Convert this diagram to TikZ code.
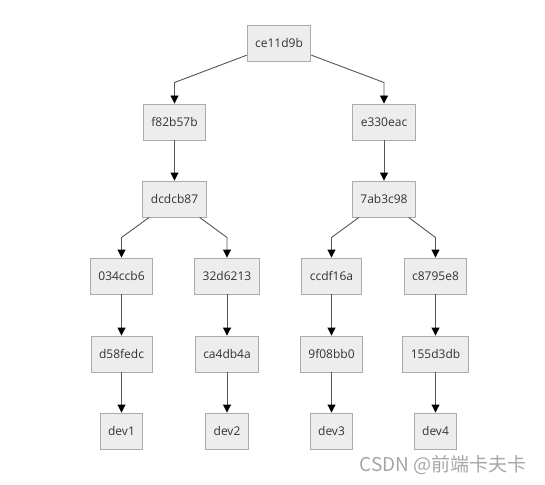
\documentclass[tikz,border=0pt]{standalone}
\usepackage{fontspec}
\setmainfont{Open Sans}
\newfontfamily\cjk{Noto Sans CJK SC}
\usetikzlibrary{arrows.meta}
\usetikzlibrary{calc}

\definecolor{boxfill}{HTML}{EDEDED}
\definecolor{boxline}{HTML}{ABABAB}
\definecolor{edgeline}{HTML}{555555}
\definecolor{marktext}{HTML}{A6A6A6}

\tikzset{
    commit/.style = {draw=boxline, fill=boxfill, text=black!80, line width=0.9pt,
        font=\fontsize{12}{14}\selectfont, inner xsep=8pt, minimum height=36pt},
    link/.style = {draw=edgeline, line width=0.9pt,
        -{Triangle[length=8pt,width=8pt,fill=black,color=black]}},
}

\begin{document}
\begin{tikzpicture}[x=1pt, y=-1pt]
            \useasboundingbox (0,0) rectangle (545,484);
            \node[commit] (ce) at (279,43) {ce11d9b};
            \node[commit] (f8) at (174.5,122) {f82b57b};
            \node[commit] (e3) at (384,122) {e330eac};
            \node[commit] (dc) at (174.5,199) {dcdcb87};
            \node[commit] (7a) at (384,199) {7ab3c98};
            \node[commit] (03) at (121.5,276) {034ccb6};
            \node[commit] (32) at (227,276) {32d6213};
            \node[commit] (cc) at (331.5,276) {ccdf16a};
            \node[commit] (c8) at (435.5,276) {c8795e8};
            \node[commit] (d5) at (121.5,354) {d58fedc};
            \node[commit] (ca) at (227,354) {ca4db4a};
            \node[commit] (9f) at (331.5,354) {9f08bb0};
            \node[commit] (15) at (435.5,354) {155d3db};
            \node[commit] (dev1) at (121.5,431) {dev1};
            \node[commit] (dev2) at (227,431) {dev2};
            \node[commit] (dev3) at (331.5,431) {dev3};
            \node[commit] (dev4) at (435.5,431) {dev4};
            % bends half way between the rows
            \coordinate (m1) at ($(ce)!0.5!(f8)$);
            \coordinate (m2) at ($(dc)!0.5!(03)$);
            \coordinate (m3) at ($(7a)!0.5!(cc)$);
            \draw[link] (ce) -- (f8 |- m1) -- (f8);
            \draw[link] (ce) -- (e3 |- m1) -- (e3);
            \draw[link] (f8) -- (dc);
            \draw[link] (e3) -- (7a);
            \draw[link] (dc) -- (03 |- m2) -- (03);
            \draw[link] (dc) -- (32 |- m2) -- (32);
            \draw[link] (7a) -- (cc |- m3) -- (cc);
            \draw[link] (7a) -- (c8 |- m3) -- (c8);
            \draw[link] (03) -- (d5);
            \draw[link] (32) -- (ca);
            \draw[link] (cc) -- (9f);
            \draw[link] (c8) -- (15);
            \draw[link] (d5) -- (dev1);
            \draw[link] (ca) -- (dev2);
            \draw[link] (9f) -- (dev3);
            \draw[link] (15) -- (dev4);
            \node[text=marktext, font=\cjk\fontsize{19}{21}\selectfont] (mark) at (443,465) {CSDN @前端卡夫卡};
        \end{tikzpicture}
\end{document}
